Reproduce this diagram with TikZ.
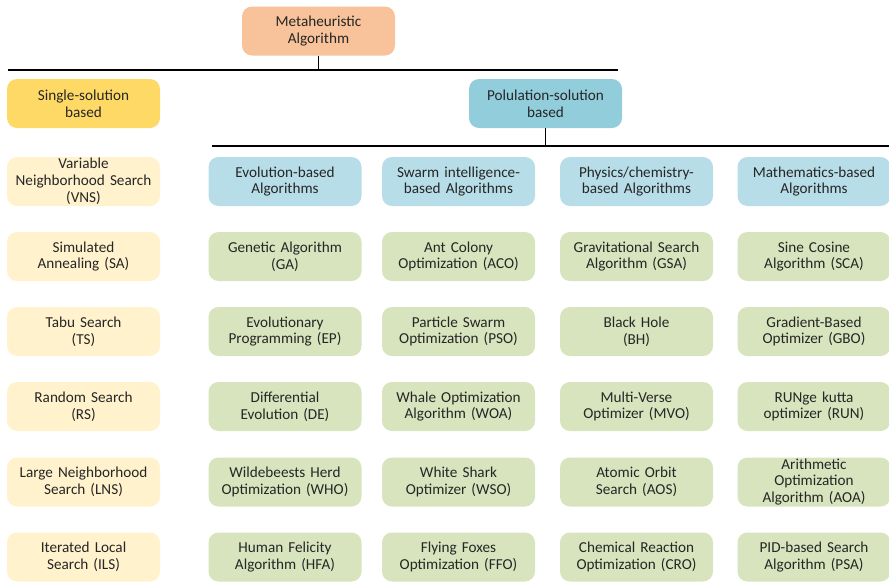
\documentclass[tikz,border=0pt]{standalone}
\usepackage{fontspec}
\setmainfont{Carlito}
\definecolor{cpeach}{HTML}{F8C39B}
\definecolor{cyellow}{HTML}{FFD966}
\definecolor{cblue}{HTML}{92CDDC}
\definecolor{clyellow}{HTML}{FFF2CC}
\definecolor{clblue}{HTML}{B7DEE8}
\definecolor{cgreen}{HTML}{D7E4BD}
\tikzset{
  box/.style={rounded corners=10pt, minimum width=153pt, minimum height=49pt, text width=152pt, align=center, inner sep=0pt, font=\fontsize{15.2}{16.8}\selectfont, text=black!85},
  top/.style={box, fill=cpeach},
  single/.style={box, fill=cyellow},
  pop/.style={box, fill=cblue},
  sbox/.style={box, fill=clyellow},
  cat/.style={box, fill=clblue},
  alg/.style={box, fill=cgreen},
  conn/.style={line width=1.3pt, black}
}
\begin{document}
\begin{tikzpicture}[x=1pt,y=-1pt]
\useasboundingbox (0,0) rectangle (889,582);
\node[top] (meta) at (318.5,31) {Metaheuristic\\Algorithm};
\node[single] (single) at (83.5,103.5) {Single-solution\\based};
\node[pop] (pop) at (545.5,103.5) {Polulation-solution\\based};
\coordinate (l1a) at (8,70);
\coordinate (l1b) at (618,70);
\coordinate (l1m) at (318.5,70);
\draw[conn] (l1a) -- (l1b);
\draw[conn] (meta.south) -- (l1m);
\coordinate (l2a) at (212,146);
\coordinate (l2b) at (889,146);
\coordinate (l2m) at (545.5,146);
\draw[conn] (l2a) -- (l2b);
\draw[conn] (pop.south) -- (l2m);
% column 0
\node[sbox] (vns) at (83.5,181.5) {Variable\\Neighborhood Search\\(VNS)};
\node[sbox] (sa) at (83.5,256.5) {Simulated\\Annealing (SA)};
\node[sbox] (ts) at (83.5,331.5) {Tabu Search\\(TS)};
\node[sbox] (rs) at (83.5,406.5) {Random Search\\(RS)};
\node[sbox] (lns) at (83.5,482) {Large Neighborhood\\Search (LNS)};
\node[sbox] (ils) at (83.5,557) {Iterated Local\\Search (ILS)};
% column 1
\node[cat] (evo) at (285,181.5) {Evolution-based\\Algorithms};
\node[alg] (ga) at (285,256.5) {Genetic Algorithm\\(GA)};
\node[alg] (ep) at (285,331.5) {Evolutionary\\Programming (EP)};
\node[alg] (de) at (285,406.5) {Differential\\Evolution (DE)};
\node[alg] (who) at (285,482) {Wildebeests Herd\\Optimization (WHO)};
\node[alg] (hfa) at (285,557) {Human Felicity\\Algorithm (HFA)};
% column 2
\node[cat] (swarm) at (458.5,181.5) {Swarm intelligence-\\based Algorithms};
\node[alg] (aco) at (458.5,256.5) {Ant Colony\\Optimization (ACO)};
\node[alg] (pso) at (458.5,331.5) {Particle Swarm\\Optimization (PSO)};
\node[alg] (woa) at (458.5,406.5) {Whale Optimization\\Algorithm (WOA)};
\node[alg] (wso) at (458.5,482) {White Shark\\Optimizer (WSO)};
\node[alg] (ffo) at (458.5,557) {Flying Foxes\\Optimization (FFO)};
% column 3
\node[cat] (phys) at (636.5,181.5) {Physics/chemistry-\\based Algorithms};
\node[alg] (gsa) at (636.5,256.5) {Gravitational Search\\Algorithm (GSA)};
\node[alg] (bh) at (636.5,331.5) {Black Hole\\(BH)};
\node[alg] (mvo) at (636.5,406.5) {Multi-Verse\\Optimizer (MVO)};
\node[alg] (aos) at (636.5,482) {Atomic Orbit\\Search (AOS)};
\node[alg] (cro) at (636.5,557) {Chemical Reaction\\Optimization (CRO)};
% column 4
\node[cat] (math) at (814,181.5) {Mathematics-based\\Algorithms};
\node[alg] (sca) at (814,256.5) {Sine Cosine\\Algorithm (SCA)};
\node[alg] (gbo) at (814,331.5) {Gradient-Based\\Optimizer (GBO)};
\node[alg] (run) at (814,406.5) {RUNge kutta\\optimizer (RUN)};
\node[alg] (aoa) at (814,482) {Arithmetic\\Optimization\\Algorithm (AOA)};
\node[alg] (psa) at (814,557) {PID-based Search\\Algorithm (PSA)};
\end{tikzpicture}
\end{document}
